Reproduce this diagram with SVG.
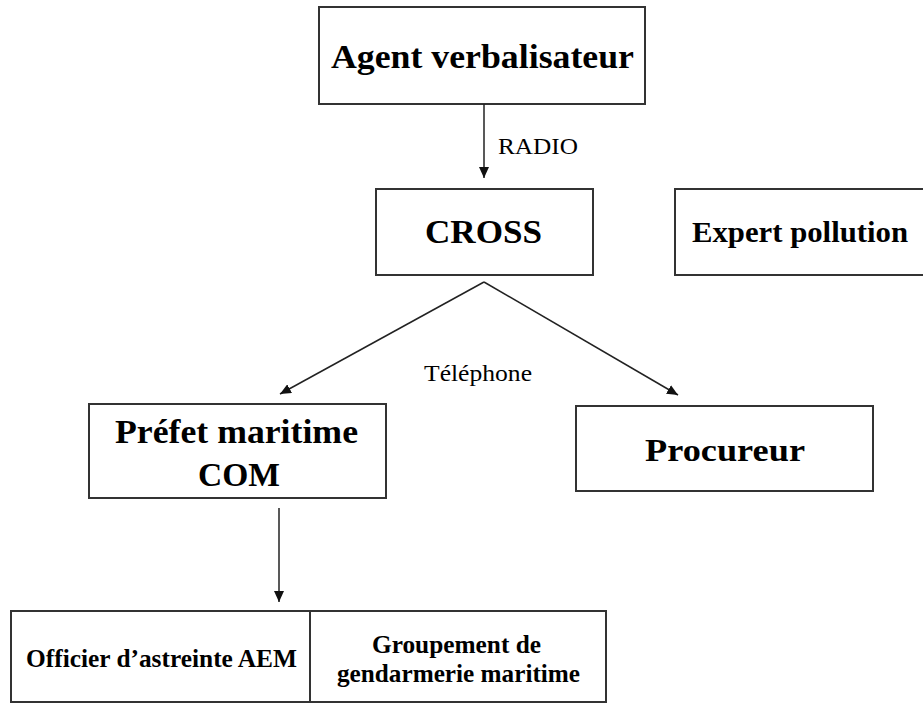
<svg xmlns="http://www.w3.org/2000/svg" width="923" height="704" viewBox="0 0 923 704">
<style>
.box{fill:#fff;stroke:#333;stroke-width:2}
.b{font-family:"Liberation Serif","Times New Roman",serif;font-weight:bold;fill:#000}
.r{font-family:"Liberation Serif","Times New Roman",serif;fill:#000}
.c{fill:none;stroke:#222;stroke-width:1.5}
</style>
<defs>
<marker id="ah" markerUnits="userSpaceOnUse" markerWidth="12" markerHeight="10" refX="11" refY="5" orient="auto">
<path d="M0,0 L11,5 L0,10 Z" fill="#111"/>
</marker>
</defs>
<rect width="923" height="704" fill="#fff"/>
<g id="agent">
<rect class="box" x="319" y="7" width="326" height="97"/>
<text class="b" x="331" y="68" font-size="33" textLength="303" lengthAdjust="spacingAndGlyphs">Agent verbalisateur</text>
</g>
<g id="cross">
<rect class="box" x="376" y="189" width="217" height="86"/>
<text class="b" x="425" y="243" font-size="33" textLength="117" lengthAdjust="spacingAndGlyphs">CROSS</text>
</g>
<g id="expert">
<rect class="box" x="675" y="189" width="260" height="86"/>
<text class="b" x="692" y="242" font-size="30" textLength="216" lengthAdjust="spacingAndGlyphs">Expert pollution</text>
</g>
<g id="prefet">
<rect class="box" x="89" y="404" width="297" height="94"/>
<text class="b" x="115" y="443" font-size="33" textLength="243" lengthAdjust="spacingAndGlyphs">Préfet maritime</text>
<text class="b" x="198" y="486" font-size="33" textLength="82" lengthAdjust="spacingAndGlyphs">COM</text>
</g>
<g id="procureur">
<rect class="box" x="576" y="406" width="297" height="85"/>
<text class="b" x="645" y="461" font-size="31" textLength="160" lengthAdjust="spacingAndGlyphs">Procureur</text>
</g>
<g id="officier">
<rect class="box" x="11" y="611" width="299" height="91"/>
<text class="b" x="26" y="667" font-size="25" textLength="271" lengthAdjust="spacingAndGlyphs">Officier d’astreinte AEM</text>
</g>
<g id="groupement">
<rect class="box" x="310" y="611" width="296" height="91"/>
<text class="b" x="372" y="653" font-size="25" textLength="169" lengthAdjust="spacingAndGlyphs">Groupement de</text>
<text class="b" x="337" y="682" font-size="25" textLength="243" lengthAdjust="spacingAndGlyphs">gendarmerie maritime</text>
</g>
<g id="connectors">
<line class="c" x1="484" y1="104" x2="484" y2="178" marker-end="url(#ah)"/>
<text class="r" x="498" y="154" font-size="24" textLength="80" lengthAdjust="spacingAndGlyphs">RADIO</text>
<line class="c" x1="484" y1="282" x2="280" y2="394" marker-end="url(#ah)"/>
<line class="c" x1="484" y1="282" x2="678" y2="395" marker-end="url(#ah)"/>
<text class="r" x="424" y="381" font-size="24" textLength="108" lengthAdjust="spacingAndGlyphs">Téléphone</text>
<line class="c" x1="279" y1="508" x2="279" y2="602" marker-end="url(#ah)"/>
</g>
</svg>
